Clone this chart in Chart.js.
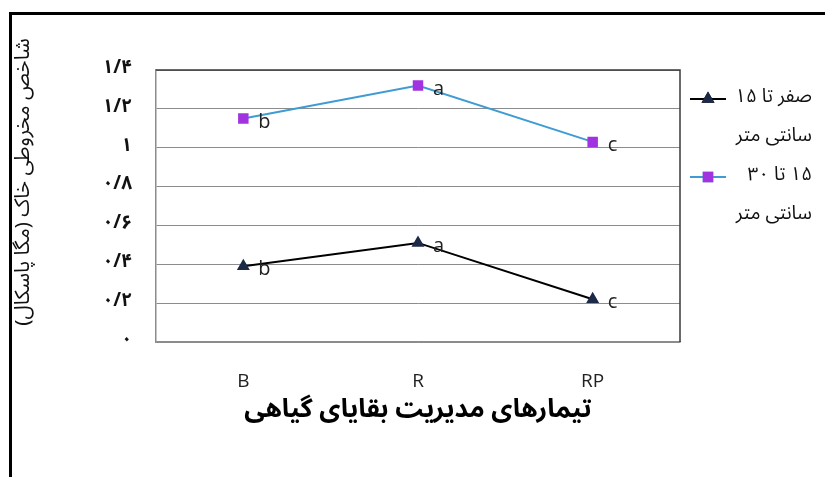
<!DOCTYPE html>
<html>
<head>
<meta charset="utf-8">
<script src="https://cdn.jsdelivr.net/npm/chart.js@4.4.1/dist/chart.umd.min.js"></script>
<style>
  body { margin: 0; background: #fff; }
  #wrap { position: relative; width: 825px; height: 477px; }
</style>
</head>
<body>
<div id="wrap"><canvas id="coneChart" width="825" height="477"></canvas></div>
<script>
// treatments on the x axis
const categories = ['B', 'R', 'RP'];
// soil cone index, two depths
const depth0to15 = [0.39, 0.51, 0.22];
const depth15to30 = [1.15, 1.32, 1.03];
// mean-comparison letters next to each point
const letters0to15 = ['b', 'a', 'c'];
const letters15to30 = ['b', 'a', 'c'];
// legend names, split over two lines like the original
const seriesNames = [
    ['صفر تا ۱۵', 'سانتی متر'],
    ['۱۵ تا ۳۰', 'سانتی متر']
];
// y tick labels (Persian digits, 0 .. 1.4)
const yTickLabels = ['۰', '۰/۲', '۰/۴', '۰/۶', '۰/۸', '۱', '۱/۲', '۱/۴'];
const yTitle = 'شاخص مخروطی خاک (مگا پاسکال)';
const xTitle = 'تیمارهای مدیریت بقایای گیاهی';

const faFont = "'Noto Sans Arabic', 'DejaVu Sans', sans-serif";
const latinFont = "'Open Sans', 'Liberation Sans', sans-serif";

const extras = {
    id: 'extras',
    afterDatasetsDraw(chart) {
        const ctx = chart.ctx;
        const area = chart.chartArea;
        ctx.save();

        // darker top/right edge of the plot box
        ctx.strokeStyle = '#3a3a3a';
        ctx.lineWidth = 1.5;
        ctx.beginPath();
        ctx.moveTo(area.left, area.top);
        ctx.lineTo(area.right, area.top);
        ctx.lineTo(area.right, area.bottom);
        ctx.stroke();

        // letters beside points
        const allLetters = [letters0to15, letters15to30];
        ctx.font = '20px ' + latinFont;
        ctx.fillStyle = '#222';
        ctx.textAlign = 'left';
        ctx.textBaseline = 'alphabetic';
        allLetters.forEach((letters, i) => {
            chart.getDatasetMeta(i).data.forEach((pt, j) => {
                ctx.fillText(letters[j], pt.x + 15, pt.y + 9);
            });
        });

        // legend on the right
        const rows = [99, 177];
        chart.data.datasets.forEach((ds, i) => {
            const y = rows[i];
            ctx.strokeStyle = ds.borderColor;
            ctx.lineWidth = 2;
            ctx.beginPath();
            ctx.moveTo(690, y);
            ctx.lineTo(726, y);
            ctx.stroke();
            Chart.helpers.drawPoint(ctx, {
                pointStyle: ds.pointStyle,
                radius: ds.pointRadius,
                borderWidth: 1,
                rotation: 0
            }, 708, y);
            ctx.fillStyle = ds.pointBackgroundColor;
            ctx.strokeStyle = ds.pointBorderColor;
            ctx.fill();
            ctx.stroke();

            ctx.font = '19px ' + faFont;
            ctx.fillStyle = '#111';
            ctx.textAlign = 'right';
            ctx.textBaseline = 'middle';
            ctx.direction = 'rtl';
            seriesNames[i].forEach((line, k) => {
                ctx.fillText(line, 812, y + k * 39);
            });
        });

        // rotated y title
        ctx.translate(26, 182);
        ctx.rotate(-Math.PI / 2);
        ctx.font = '20.5px ' + faFont;
        ctx.fillStyle = '#111';
        ctx.textAlign = 'center';
        ctx.textBaseline = 'middle';
        ctx.direction = 'rtl';
        ctx.fillText(yTitle, 0, 0);
        ctx.restore();

        // outer frame (only left and top show in the crop)
        ctx.save();
        ctx.fillStyle = '#000';
        ctx.fillRect(9, 12, 825, 3);
        ctx.fillRect(9, 12, 3, 477);
        ctx.restore();
    }
};

new Chart(document.getElementById('coneChart'), {
    type: 'line',
    data: {
        labels: categories,
        datasets: [{
            label: seriesNames[0].join(' '),
            data: depth0to15,
            borderColor: '#000000',
            borderWidth: 2,
            pointStyle: 'triangle',
            pointRadius: 5.5,
            pointBackgroundColor: '#1c2a48',
            pointBorderColor: '#1c2a48',
            tension: 0
        }, {
            label: seriesNames[1].join(' '),
            data: depth15to30,
            borderColor: '#3f9bd3',
            borderWidth: 2,
            pointStyle: 'rect',
            pointRadius: 6,
            pointBackgroundColor: '#a233e0',
            pointBorderColor: '#a233e0',
            tension: 0
        }]
    },
    options: {
        responsive: false,
        animation: false,
        layout: { padding: { left: 0, top: 70, right: 145, bottom: 0 } },
        scales: {
            x: {
                offset: true,
                grid: { display: false, drawTicks: false },
                border: { color: '#8c8c8c', width: 1.5 },
                ticks: { padding: 28, color: '#222', font: { family: latinFont, size: 19 } },
                title: {
                    display: true,
                    text: xTitle,
                    color: '#000',
                    font: { family: faFont, size: 26, weight: 'bold' },
                    padding: { top: 0, bottom: 48 }
                },
                afterFit: (scale) => { scale.height = 135; }
            },
            y: {
                min: 0,
                max: 1.4,
                ticks: {
                    stepSize: 0.2,
                    padding: 24,
                    color: '#111',
                    font: { family: faFont, size: 19, weight: 'bold' },
                    callback: (value, index) => yTickLabels[index]
                },
                grid: { color: '#8c8c8c', lineWidth: 1, drawTicks: false },
                border: { color: '#8c8c8c', width: 1.5 },
                afterFit: (scale) => { scale.width = 156; }
            }
        },
        plugins: {
            legend: { display: false },
            tooltip: { enabled: false }
        }
    },
    plugins: [extras]
});
</script>
</body>
</html>
